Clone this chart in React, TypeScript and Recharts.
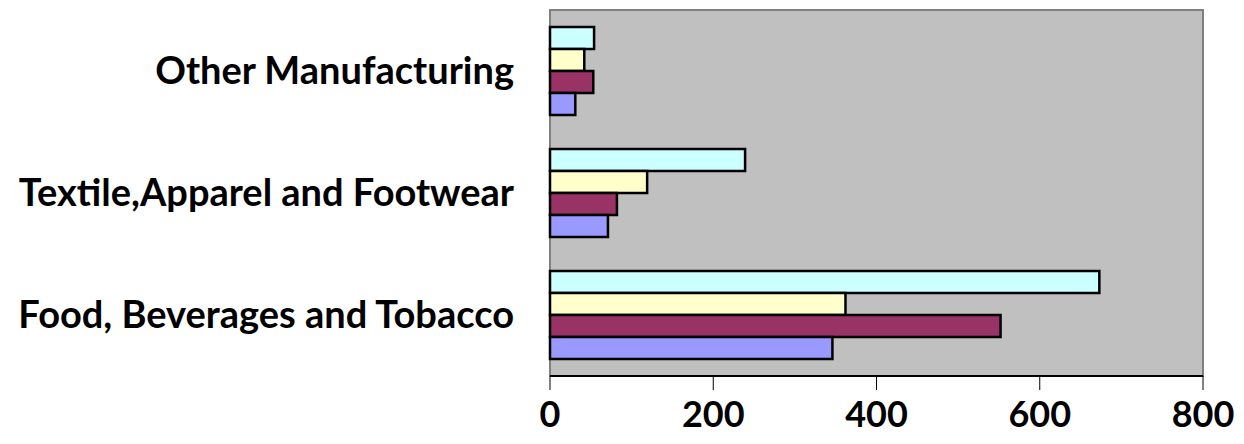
import React from 'react';
import {
  BarChart,
  Bar,
  XAxis,
  YAxis,
  ReferenceArea,
} from 'recharts';

// categories, top to bottom as drawn
const categories = ['Other Manufacturing', 'Textile,Apparel and Footwear', 'Food, Beverages and Tobacco'];

// four series per category (top bar first)
const seriesD = [54, 239, 673];
const seriesC = [42, 119, 362];
const seriesB = [53, 82, 552];
const seriesA = [31, 71, 346];

const xTicks = [0, 200, 400, 600, 800];
const bandEdges = [0, 1, 2, 3];

const data = categories.map((name, i) => ({
  name,
  d: seriesD[i],
  c: seriesC[i],
  b: seriesB[i],
  a: seriesA[i],
}));

const font = 'Lato, "Open Sans", sans-serif';

const App = () => {
  return (
    <div style={{ position: 'absolute', left: 0, top: 0, width: 1244, height: 444, background: '#fff' }}>
      <BarChart
        width={1244}
        height={444}
        data={data}
        layout="vertical"
        margin={{ top: 10, right: 41, bottom: 0, left: 0 }}
        barCategoryGap="14%"
        barGap={0}
      >
        <XAxis
          type="number"
          domain={[0, 800]}
          ticks={xTicks}
          tickSize={14}
          tickMargin={11}
          height={68}
          axisLine={{ stroke: '#000', strokeWidth: 2 }}
          tickLine={{ stroke: '#000' }}
          tick={{ fill: '#000', fontSize: 36, fontWeight: 700, fontFamily: font }}
        />
        <YAxis
          yAxisId="edges"
          type="number"
          domain={[0, 3]}
          ticks={bandEdges}
          width={0}
          tick={false}
          tickSize={9}
          axisLine={{ stroke: '#555', strokeWidth: 2 }}
          tickLine={{ stroke: '#000' }}
        />
        <YAxis
          type="category"
          dataKey="name"
          width={550}
          axisLine={false}
          tickLine={false}
          tickMargin={30}
          tick={{ fill: '#000', fontSize: 38, fontWeight: 700, fontFamily: font }}
        />
        <ReferenceArea
          x1={0}
          x2={800}
          fill="#C0C0C0"
          fillOpacity={1}
          stroke="#808080"
          strokeWidth={2}
        />
        <Bar dataKey="d" fill="#CCFFFF" stroke="#000" strokeWidth={2.5} isAnimationActive={false} />
        <Bar dataKey="c" fill="#FFFFCC" stroke="#000" strokeWidth={2.5} isAnimationActive={false} />
        <Bar dataKey="b" fill="#993366" stroke="#000" strokeWidth={2.5} isAnimationActive={false} />
        <Bar dataKey="a" fill="#9999FF" stroke="#000" strokeWidth={2.5} isAnimationActive={false} />
      </BarChart>
    </div>
  );
};

export default App;
